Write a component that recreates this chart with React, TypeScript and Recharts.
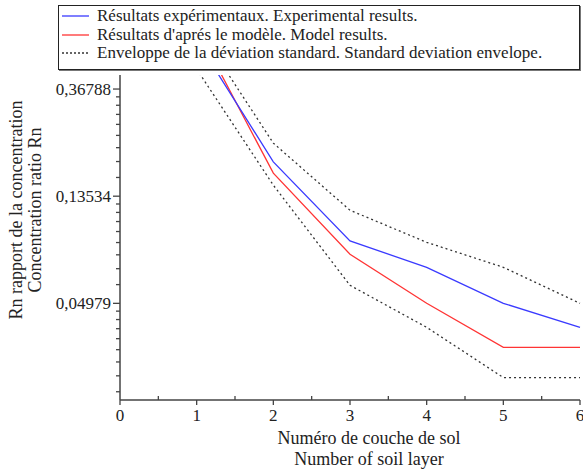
import { LineChart, Line, XAxis, YAxis, Legend, Label } from 'recharts';

const layers = [1, 2, 3, 4, 5, 6];
const experimental = [0.582, 0.1865, 0.0891, 0.0697, 0.0498, 0.0398];
const model = [0.652, 0.1678, 0.0787, 0.0498, 0.033, 0.033];
const upperEnvelope = [0.664, 0.222, 0.1187, 0.088, 0.0697, 0.0498];
const lowerEnvelope = [0.443, 0.15, 0.0589, 0.0398, 0.0249, 0.0249];

const majorY = [0.36788, 0.13534, 0.04979];
const majorYLabels = ['0,36788', '0,13534', '0,04979'];
const xTicks = [0, 0.5, 1, 1.5, 2, 2.5, 3, 3.5, 4, 4.5, 5, 5.5, 6];

const legendItems = [
  { label: 'Résultats expérimentaux. Experimental results.', color: '#3a3aff', dash: '' },
  { label: "Résultats d'aprés le modèle. Model results.", color: '#ff3434', dash: '' },
  { label: 'Enveloppe de la déviation standard. Standard deviation envelope.', color: '#333', dash: '2 2' },
];

const FONT = '"Liberation Serif", "Times New Roman", serif';
const AXIS = '#444';
const Y_MIN = 0.0202;
const Y_MAX = 0.4194;

const data = layers.map((x, i) => ({
  x,
  experimental: experimental[i],
  model: model[i],
  upper: upperEnvelope[i],
  lower: lowerEnvelope[i],
}));

// origin-style minor ticks: 8 linear steps between each pair of major ticks
const minorY: number[] = [];
const bounds = [...majorY, 0.01832];
for (let i = 0; i < bounds.length - 1; i++) {
  const step = (bounds[i] - bounds[i + 1]) / 9;
  for (let k = 1; k <= 8; k++) minorY.push(bounds[i] - k * step);
}
const yTicks = [...majorY, ...minorY].filter((v) => v > Y_MIN && v < Y_MAX);

const tickText = { fontFamily: FONT, fontSize: 17, fill: '#222' };

function YTick({ x, y, payload }: any) {
  const idx = majorY.indexOf(payload.value);
  const major = idx >= 0;
  return (
    <g>
      <line x1={x - (major ? 7 : 4)} x2={x} y1={y} y2={y} stroke={AXIS} strokeWidth={1.3} />
      {major && (
        <text x={x - 9} y={y} textAnchor="end" dominantBaseline="central" style={tickText}>
          {majorYLabels[idx]}
        </text>
      )}
    </g>
  );
}

function XTick({ x, y, payload }: any) {
  const major = Number.isInteger(payload.value);
  if (!major) {
    return <line x1={x} x2={x} y1={y} y2={y - 4} stroke={AXIS} strokeWidth={1.3} />;
  }
  return (
    <g>
      <line x1={x} x2={x} y1={y} y2={y + 5} stroke={AXIS} strokeWidth={1.3} />
      <text x={x} y={y + 15} textAnchor="middle" dominantBaseline="central" style={tickText}>
        {payload.value}
      </text>
    </g>
  );
}

function LegendBox() {
  return (
    <div
      style={{
        width: 520,
        height: 62,
        border: '1px solid #222',
        boxShadow: '1px 1px 0 #777',
        background: '#fff',
        paddingTop: 1,
        boxSizing: 'content-box',
        fontFamily: FONT,
        fontSize: 17,
        color: '#222',
      }}
    >
      {legendItems.map((item) => (
        <div key={item.label} style={{ display: 'flex', alignItems: 'center', height: 18.5, lineHeight: '18.5px' }}>
          <svg width={38} height={10} style={{ flex: 'none' }}>
            <line x1={3} x2={30} y1={5} y2={5} stroke={item.color} strokeWidth={1.3} strokeDasharray={item.dash || undefined} />
          </svg>
          <span style={{ whiteSpace: 'nowrap' }}>{item.label}</span>
        </div>
      ))}
    </div>
  );
}

const titleText = { fontFamily: FONT, fontSize: 18, fill: '#222' };

function YTitle() {
  return (
    <g>
      <text x={16} y={210} textAnchor="middle" dominantBaseline="central" transform="rotate(-90, 16, 210)" style={titleText}>
        Rn rapport de la concentration
      </text>
      <text x={35} y={210} textAnchor="middle" dominantBaseline="central" transform="rotate(-90, 35, 210)" style={titleText}>
        Concentration ratio Rn
      </text>
    </g>
  );
}

function XTitle() {
  return (
    <g>
      <text x={369} y={438} textAnchor="middle" dominantBaseline="central" style={titleText}>
        Numéro de couche de sol
      </text>
      <text x={369} y={459} textAnchor="middle" dominantBaseline="central" style={titleText}>
        Number of soil layer
      </text>
    </g>
  );
}

export default function App() {
  return (
    <div style={{ position: 'absolute', left: 0, top: 0, background: '#fff' }}>
      <LineChart width={583} height={470} data={data} margin={{ top: 75, right: 3, bottom: 0, left: 0 }}>
        <XAxis
          dataKey="x"
          type="number"
          domain={[0, 6]}
          ticks={xTicks}
          interval={0}
          height={70}
          tickSize={0}
          tickMargin={0}
          tickLine={false}
          tick={<XTick />}
          axisLine={{ stroke: AXIS, strokeWidth: 1.5 }}
        >
          <Label content={<XTitle />} />
        </XAxis>
        <YAxis
          type="number"
          scale="log"
          domain={[Y_MIN, Y_MAX]}
          allowDataOverflow
          ticks={yTicks}
          interval={0}
          width={120}
          tickSize={0}
          tickMargin={0}
          tickLine={false}
          tick={<YTick />}
          axisLine={{ stroke: AXIS, strokeWidth: 1.5 }}
        >
          <Label content={<YTitle />} />
        </YAxis>
        <Legend
          layout="vertical"
          align="center"
          verticalAlign="middle"
          width={522}
          wrapperStyle={{ top: 5, left: 58 }}
          content={<LegendBox />}
        />
        <Line dataKey="upper" stroke="#333" strokeWidth={1.3} strokeDasharray="2 3" dot={false} isAnimationActive={false} />
        <Line dataKey="lower" stroke="#333" strokeWidth={1.3} strokeDasharray="2 3" dot={false} isAnimationActive={false} />
        <Line dataKey="model" stroke="#ff3434" strokeWidth={1.3} dot={false} isAnimationActive={false} />
        <Line dataKey="experimental" stroke="#3a3aff" strokeWidth={1.3} dot={false} isAnimationActive={false} />
      </LineChart>
    </div>
  );
}
